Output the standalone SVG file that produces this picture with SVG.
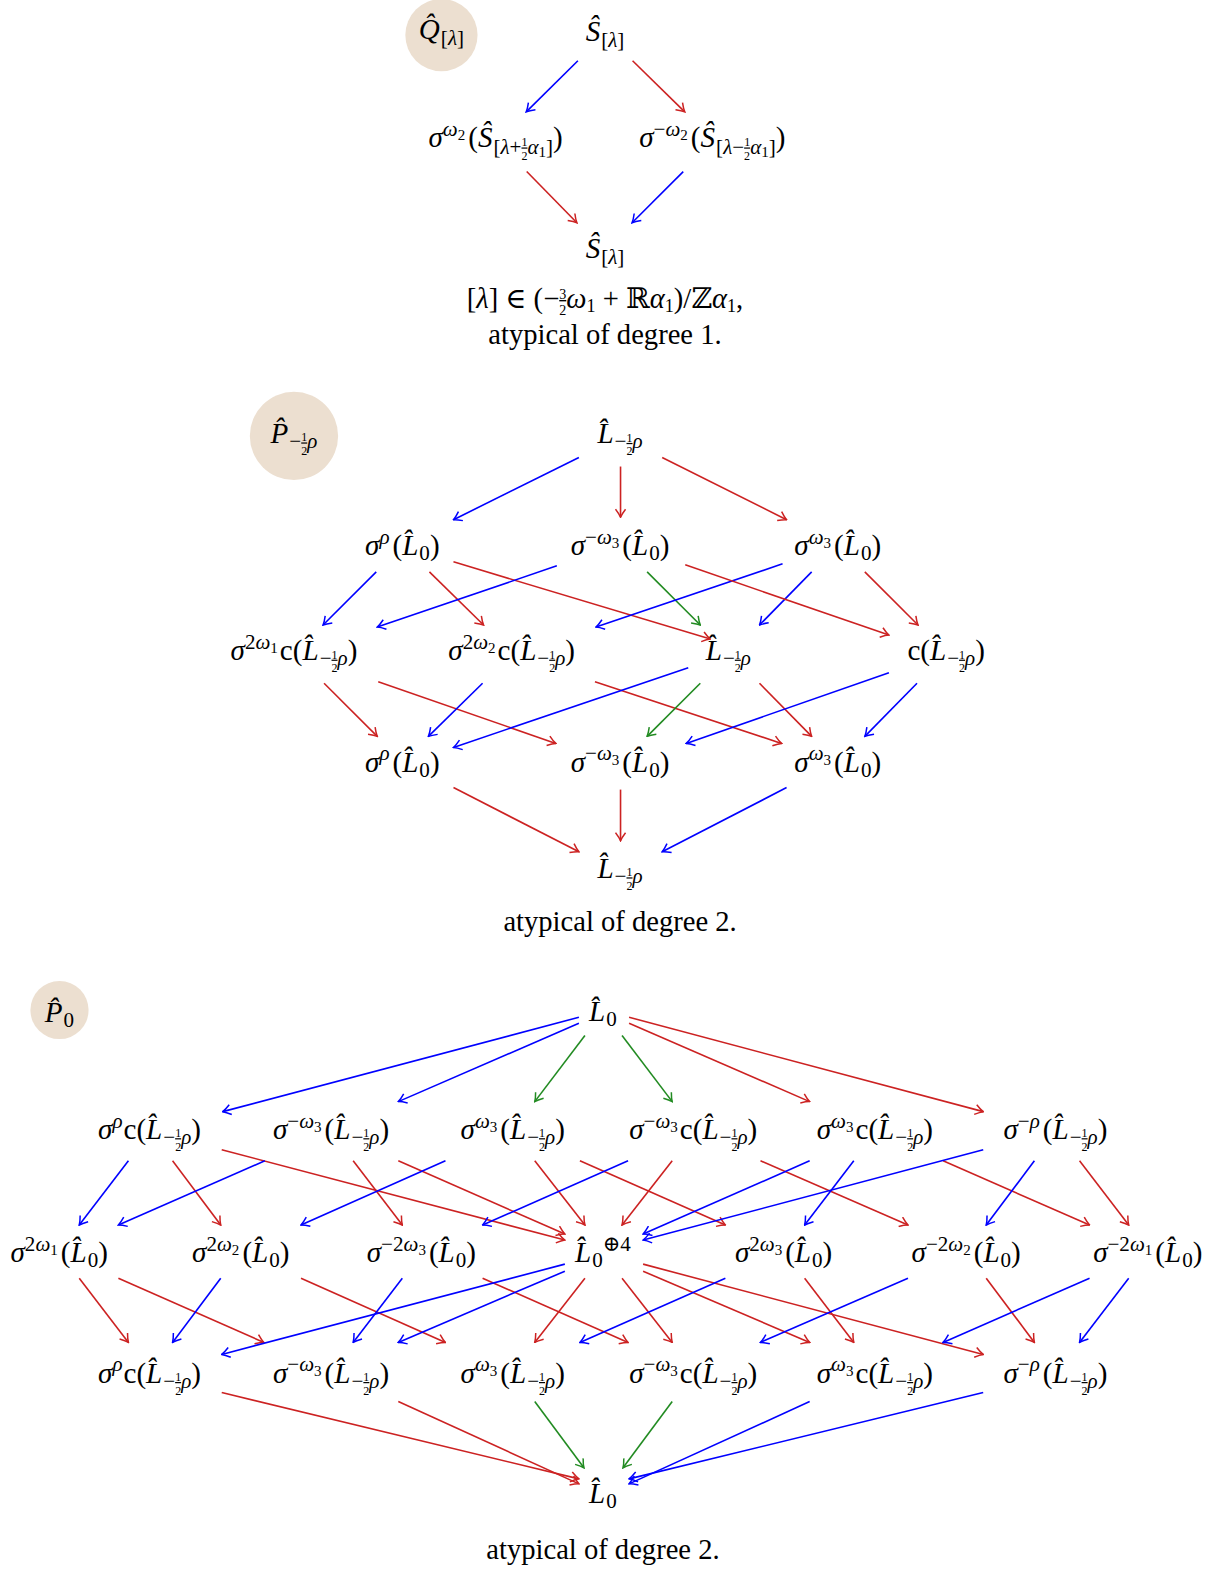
<svg xmlns="http://www.w3.org/2000/svg" width="1221" height="1573" viewBox="0 0 1221 1573">
<style>
text{font-family:"Liberation Serif","DejaVu Serif",serif;font-size:29px;fill:#000;text-anchor:middle}
.cap{font-size:28.5px}
.i{font-style:italic}
.s{font-size:21px}
.ss{font-size:15px}
.q{font-size:12px}
.f{font-size:14px}
.g{font-size:18px}
.fr{text-decoration:underline}
.c line{stroke-width:1.6;fill:none}
.bl{stroke:#0000ff;marker-end:url(#ab)}
.rd{stroke:#cc2222;marker-end:url(#ar)}
.gr{stroke:#228b22;marker-end:url(#ag)}
.bub{fill:#ecdfd0}
</style>
<defs>
<marker id="ab" viewBox="-9 -6 10 12" refX="0" refY="0" markerWidth="10" markerHeight="12" orient="auto" markerUnits="userSpaceOnUse"><path d="M-8,-5 Q-3,-1.2 0,0 Q-3,1.2 -8,5" fill="none" stroke="#0000ff" stroke-width="1.5"/></marker>
<marker id="ar" viewBox="-9 -6 10 12" refX="0" refY="0" markerWidth="10" markerHeight="12" orient="auto" markerUnits="userSpaceOnUse"><path d="M-8,-5 Q-3,-1.2 0,0 Q-3,1.2 -8,5" fill="none" stroke="#cc2222" stroke-width="1.5"/></marker>
<marker id="ag" viewBox="-9 -6 10 12" refX="0" refY="0" markerWidth="10" markerHeight="12" orient="auto" markerUnits="userSpaceOnUse"><path d="M-8,-5 Q-3,-1.2 0,0 Q-3,1.2 -8,5" fill="none" stroke="#228b22" stroke-width="1.5"/></marker>
</defs>
<g transform="scale(1.00329)">
<!-- Section 1 -->
<g id="s1-Q"><circle class="bub" cx="440" cy="35" r="36"/><text x="440" y="39"><tspan class="i">Q&#x302;</tspan><tspan class="s" dx="1" dy="6">[</tspan><tspan class="s i">λ</tspan><tspan class="s">]</tspan></text></g>
<g id="s1-top"><text x="603" y="41"><tspan class="i">S&#x302;</tspan><tspan class="s" dx="1" dy="6">[</tspan><tspan class="s i">λ</tspan><tspan class="s">]</tspan></text></g>
<g id="s1-left"><text x="494" y="147"><tspan class="i">σ</tspan><tspan class="s i" dy="-11">ω</tspan><tspan class="ss" dy="4">2</tspan><tspan dx="3" dy="7">(</tspan><tspan class="i">S&#x302;</tspan><tspan class="s" dx="1" dy="6">[</tspan><tspan class="s i">λ</tspan><tspan class="s">+</tspan><tspan class="q fr" dy="-7">1</tspan><tspan class="q" dx="-6" dy="13.5">2</tspan><tspan class="s i" dy="-6.5">α</tspan><tspan class="ss" dy="3">1</tspan><tspan class="s" dy="-3">]</tspan><tspan dy="-6">)</tspan></text></g>
<g id="s1-right"><text x="710" y="147"><tspan class="i">σ</tspan><tspan class="s" dy="-11">−</tspan><tspan class="s i">ω</tspan><tspan class="ss" dy="4">2</tspan><tspan dx="3" dy="7">(</tspan><tspan class="i">S&#x302;</tspan><tspan class="s" dx="1" dy="6">[</tspan><tspan class="s i">λ</tspan><tspan class="s">−</tspan><tspan class="q fr" dy="-7">1</tspan><tspan class="q" dx="-6" dy="13.5">2</tspan><tspan class="s i" dy="-6.5">α</tspan><tspan class="ss" dy="3">1</tspan><tspan class="s" dy="-3">]</tspan><tspan dy="-6">)</tspan></text></g>
<g id="s1-bottom"><text x="603" y="257"><tspan class="i">S&#x302;</tspan><tspan class="s" dx="1" dy="6">[</tspan><tspan class="s i">λ</tspan><tspan class="s">]</tspan></text></g>
<g id="s1-caption"><text class="cap" x="603" y="307">[<tspan class="i">λ</tspan>] ∈ (−<tspan class="f fr" dy="-9">3</tspan><tspan class="f" dx="-7" dy="16">2</tspan><tspan class="i" dy="-7">ω</tspan><tspan class="g" dy="4">1</tspan><tspan dy="-4"> + ℝ</tspan><tspan class="i">α</tspan><tspan class="g" dy="4">1</tspan><tspan dy="-4">)/ℤ</tspan><tspan class="i">α</tspan><tspan class="g" dy="4">1</tspan><tspan dy="-4">,</tspan></text><text class="cap" x="603" y="343">atypical of degree 1.</text></g>

<!-- Section 2 -->
<g id="s2-P"><circle class="bub" cx="293" cy="434.5" r="44"/><text x="293" y="441.5"><tspan class="i">P&#x302;</tspan><tspan class="s" dx="1" dy="5">−</tspan><tspan class="q fr" dy="-6.5">1</tspan><tspan class="q" dx="-6" dy="13.5">2</tspan><tspan class="s i" dy="-7">ρ</tspan></text></g>
<g id="s2-top"><text x="618" y="442"><tspan class="i">L&#x302;</tspan><tspan class="s" dx="1" dy="5">−</tspan><tspan class="q fr" dy="-6.5">1</tspan><tspan class="q" dx="-6" dy="13.5">2</tspan><tspan class="s i" dy="-7">ρ</tspan></text></g>
<g id="s2-r2a"><text x="401" y="553"><tspan class="i">σ</tspan><tspan class="s i" dy="-11">ρ</tspan><tspan dx="3" dy="11">(</tspan><tspan class="i">L&#x302;</tspan><tspan class="s" dx="1" dy="5">0</tspan><tspan dy="-5">)</tspan></text></g>
<g id="s2-r2b"><text x="618" y="553"><tspan class="i">σ</tspan><tspan class="s" dy="-11">−</tspan><tspan class="s i">ω</tspan><tspan class="ss" dy="4">3</tspan><tspan dx="3" dy="7">(</tspan><tspan class="i">L&#x302;</tspan><tspan class="s" dx="1" dy="5">0</tspan><tspan dy="-5">)</tspan></text></g>
<g id="s2-r2c"><text x="835" y="553"><tspan class="i">σ</tspan><tspan class="s i" dy="-11">ω</tspan><tspan class="ss" dy="4">3</tspan><tspan dx="3" dy="7">(</tspan><tspan class="i">L&#x302;</tspan><tspan class="s" dx="1" dy="5">0</tspan><tspan dy="-5">)</tspan></text></g>
<g id="s2-r3a"><text x="293" y="658"><tspan class="i">σ</tspan><tspan class="s" dy="-11">2</tspan><tspan class="s i">ω</tspan><tspan class="ss" dy="4">1</tspan><tspan dx="2" dy="7">c(</tspan><tspan class="i">L&#x302;</tspan><tspan class="s" dx="1" dy="5">−</tspan><tspan class="q fr" dy="-6.5">1</tspan><tspan class="q" dx="-6" dy="13.5">2</tspan><tspan class="s i" dy="-7">ρ</tspan><tspan dy="-5">)</tspan></text></g>
<g id="s2-r3b"><text x="510" y="658"><tspan class="i">σ</tspan><tspan class="s" dy="-11">2</tspan><tspan class="s i">ω</tspan><tspan class="ss" dy="4">2</tspan><tspan dx="2" dy="7">c(</tspan><tspan class="i">L&#x302;</tspan><tspan class="s" dx="1" dy="5">−</tspan><tspan class="q fr" dy="-6.5">1</tspan><tspan class="q" dx="-6" dy="13.5">2</tspan><tspan class="s i" dy="-7">ρ</tspan><tspan dy="-5">)</tspan></text></g>
<g id="s2-r3c"><text x="726" y="658"><tspan class="i">L&#x302;</tspan><tspan class="s" dx="1" dy="5">−</tspan><tspan class="q fr" dy="-6.5">1</tspan><tspan class="q" dx="-6" dy="13.5">2</tspan><tspan class="s i" dy="-7">ρ</tspan></text></g>
<g id="s2-r3d"><text x="943" y="658">c(<tspan class="i">L&#x302;</tspan><tspan class="s" dx="1" dy="5">−</tspan><tspan class="q fr" dy="-6.5">1</tspan><tspan class="q" dx="-6" dy="13.5">2</tspan><tspan class="s i" dy="-7">ρ</tspan><tspan dy="-5">)</tspan></text></g>
<g id="s2-r4a"><text x="401" y="769"><tspan class="i">σ</tspan><tspan class="s i" dy="-11">ρ</tspan><tspan dx="3" dy="11">(</tspan><tspan class="i">L&#x302;</tspan><tspan class="s" dx="1" dy="5">0</tspan><tspan dy="-5">)</tspan></text></g>
<g id="s2-r4b"><text x="618" y="769"><tspan class="i">σ</tspan><tspan class="s" dy="-11">−</tspan><tspan class="s i">ω</tspan><tspan class="ss" dy="4">3</tspan><tspan dx="3" dy="7">(</tspan><tspan class="i">L&#x302;</tspan><tspan class="s" dx="1" dy="5">0</tspan><tspan dy="-5">)</tspan></text></g>
<g id="s2-r4c"><text x="835" y="769"><tspan class="i">σ</tspan><tspan class="s i" dy="-11">ω</tspan><tspan class="ss" dy="4">3</tspan><tspan dx="3" dy="7">(</tspan><tspan class="i">L&#x302;</tspan><tspan class="s" dx="1" dy="5">0</tspan><tspan dy="-5">)</tspan></text></g>
<g id="s2-bottom"><text x="618" y="875"><tspan class="i">L&#x302;</tspan><tspan class="s" dx="1" dy="5">−</tspan><tspan class="q fr" dy="-6.5">1</tspan><tspan class="q" dx="-6" dy="13.5">2</tspan><tspan class="s i" dy="-7">ρ</tspan></text></g>
<g id="s2-caption"><text class="cap" x="618" y="928">atypical of degree 2.</text></g>

<!-- Section 3 -->
<g id="s3-P"><circle class="bub" cx="59.3" cy="1006.7" r="29"/><text x="59.3" y="1019"><tspan class="i">P&#x302;</tspan><tspan class="s" dx="1" dy="5">0</tspan></text></g>
<g id="s3-top"><text x="601" y="1018"><tspan class="i">L&#x302;</tspan><tspan class="s" dx="1" dy="5">0</tspan></text></g>
<g id="s3-A1"><text x="149" y="1135"><tspan class="i">σ</tspan><tspan class="s i" dy="-11">ρ</tspan><tspan dx="1" dy="11">c(</tspan><tspan class="i">L&#x302;</tspan><tspan class="s" dx="1" dy="5">−</tspan><tspan class="q fr" dy="-6.5">1</tspan><tspan class="q" dx="-6" dy="13.5">2</tspan><tspan class="s i" dy="-7">ρ</tspan><tspan dy="-5">)</tspan></text></g>
<g id="s3-A2"><text x="330" y="1135"><tspan class="i">σ</tspan><tspan class="s" dy="-11">−</tspan><tspan class="s i">ω</tspan><tspan class="ss" dy="4">3</tspan><tspan dx="3" dy="7">(</tspan><tspan class="i">L&#x302;</tspan><tspan class="s" dx="1" dy="5">−</tspan><tspan class="q fr" dy="-6.5">1</tspan><tspan class="q" dx="-6" dy="13.5">2</tspan><tspan class="s i" dy="-7">ρ</tspan><tspan dy="-5">)</tspan></text></g>
<g id="s3-A3"><text x="511" y="1135"><tspan class="i">σ</tspan><tspan class="s i" dy="-11">ω</tspan><tspan class="ss" dy="4">3</tspan><tspan dx="3" dy="7">(</tspan><tspan class="i">L&#x302;</tspan><tspan class="s" dx="1" dy="5">−</tspan><tspan class="q fr" dy="-6.5">1</tspan><tspan class="q" dx="-6" dy="13.5">2</tspan><tspan class="s i" dy="-7">ρ</tspan><tspan dy="-5">)</tspan></text></g>
<g id="s3-A4"><text x="691" y="1135"><tspan class="i">σ</tspan><tspan class="s" dy="-11">−</tspan><tspan class="s i">ω</tspan><tspan class="ss" dy="4">3</tspan><tspan dx="2" dy="7">c(</tspan><tspan class="i">L&#x302;</tspan><tspan class="s" dx="1" dy="5">−</tspan><tspan class="q fr" dy="-6.5">1</tspan><tspan class="q" dx="-6" dy="13.5">2</tspan><tspan class="s i" dy="-7">ρ</tspan><tspan dy="-5">)</tspan></text></g>
<g id="s3-A5"><text x="872" y="1135"><tspan class="i">σ</tspan><tspan class="s i" dy="-11">ω</tspan><tspan class="ss" dy="4">3</tspan><tspan dx="2" dy="7">c(</tspan><tspan class="i">L&#x302;</tspan><tspan class="s" dx="1" dy="5">−</tspan><tspan class="q fr" dy="-6.5">1</tspan><tspan class="q" dx="-6" dy="13.5">2</tspan><tspan class="s i" dy="-7">ρ</tspan><tspan dy="-5">)</tspan></text></g>
<g id="s3-A6"><text x="1052" y="1135"><tspan class="i">σ</tspan><tspan class="s" dy="-11">−</tspan><tspan class="s i">ρ</tspan><tspan dx="3" dy="11">(</tspan><tspan class="i">L&#x302;</tspan><tspan class="s" dx="1" dy="5">−</tspan><tspan class="q fr" dy="-6.5">1</tspan><tspan class="q" dx="-6" dy="13.5">2</tspan><tspan class="s i" dy="-7">ρ</tspan><tspan dy="-5">)</tspan></text></g>
<g id="s3-B1"><text x="59" y="1258"><tspan class="i">σ</tspan><tspan class="s" dy="-11">2</tspan><tspan class="s i">ω</tspan><tspan class="ss" dy="4">1</tspan><tspan dx="3" dy="7">(</tspan><tspan class="i">L&#x302;</tspan><tspan class="s" dx="1" dy="5">0</tspan><tspan dy="-5">)</tspan></text></g>
<g id="s3-B2"><text x="240" y="1258"><tspan class="i">σ</tspan><tspan class="s" dy="-11">2</tspan><tspan class="s i">ω</tspan><tspan class="ss" dy="4">2</tspan><tspan dx="3" dy="7">(</tspan><tspan class="i">L&#x302;</tspan><tspan class="s" dx="1" dy="5">0</tspan><tspan dy="-5">)</tspan></text></g>
<g id="s3-B3"><text x="420" y="1258"><tspan class="i">σ</tspan><tspan class="s" dy="-11">−2</tspan><tspan class="s i">ω</tspan><tspan class="ss" dy="4">3</tspan><tspan dx="3" dy="7">(</tspan><tspan class="i">L&#x302;</tspan><tspan class="s" dx="1" dy="5">0</tspan><tspan dy="-5">)</tspan></text></g>
<g id="s3-B4"><text x="601" y="1258"><tspan class="i">L&#x302;</tspan><tspan class="s" dx="1" dy="5">0</tspan><tspan class="s" dy="-16">⊕4</tspan></text></g>
<g id="s3-B5"><text x="781" y="1258"><tspan class="i">σ</tspan><tspan class="s" dy="-11">2</tspan><tspan class="s i">ω</tspan><tspan class="ss" dy="4">3</tspan><tspan dx="3" dy="7">(</tspan><tspan class="i">L&#x302;</tspan><tspan class="s" dx="1" dy="5">0</tspan><tspan dy="-5">)</tspan></text></g>
<g id="s3-B6"><text x="963" y="1258"><tspan class="i">σ</tspan><tspan class="s" dy="-11">−2</tspan><tspan class="s i">ω</tspan><tspan class="ss" dy="4">2</tspan><tspan dx="3" dy="7">(</tspan><tspan class="i">L&#x302;</tspan><tspan class="s" dx="1" dy="5">0</tspan><tspan dy="-5">)</tspan></text></g>
<g id="s3-B7"><text x="1144" y="1258"><tspan class="i">σ</tspan><tspan class="s" dy="-11">−2</tspan><tspan class="s i">ω</tspan><tspan class="ss" dy="4">1</tspan><tspan dx="3" dy="7">(</tspan><tspan class="i">L&#x302;</tspan><tspan class="s" dx="1" dy="5">0</tspan><tspan dy="-5">)</tspan></text></g>
<g id="s3-C1"><text x="149" y="1378"><tspan class="i">σ</tspan><tspan class="s i" dy="-11">ρ</tspan><tspan dx="1" dy="11">c(</tspan><tspan class="i">L&#x302;</tspan><tspan class="s" dx="1" dy="5">−</tspan><tspan class="q fr" dy="-6.5">1</tspan><tspan class="q" dx="-6" dy="13.5">2</tspan><tspan class="s i" dy="-7">ρ</tspan><tspan dy="-5">)</tspan></text></g>
<g id="s3-C2"><text x="330" y="1378"><tspan class="i">σ</tspan><tspan class="s" dy="-11">−</tspan><tspan class="s i">ω</tspan><tspan class="ss" dy="4">3</tspan><tspan dx="3" dy="7">(</tspan><tspan class="i">L&#x302;</tspan><tspan class="s" dx="1" dy="5">−</tspan><tspan class="q fr" dy="-6.5">1</tspan><tspan class="q" dx="-6" dy="13.5">2</tspan><tspan class="s i" dy="-7">ρ</tspan><tspan dy="-5">)</tspan></text></g>
<g id="s3-C3"><text x="511" y="1378"><tspan class="i">σ</tspan><tspan class="s i" dy="-11">ω</tspan><tspan class="ss" dy="4">3</tspan><tspan dx="3" dy="7">(</tspan><tspan class="i">L&#x302;</tspan><tspan class="s" dx="1" dy="5">−</tspan><tspan class="q fr" dy="-6.5">1</tspan><tspan class="q" dx="-6" dy="13.5">2</tspan><tspan class="s i" dy="-7">ρ</tspan><tspan dy="-5">)</tspan></text></g>
<g id="s3-C4"><text x="691" y="1378"><tspan class="i">σ</tspan><tspan class="s" dy="-11">−</tspan><tspan class="s i">ω</tspan><tspan class="ss" dy="4">3</tspan><tspan dx="2" dy="7">c(</tspan><tspan class="i">L&#x302;</tspan><tspan class="s" dx="1" dy="5">−</tspan><tspan class="q fr" dy="-6.5">1</tspan><tspan class="q" dx="-6" dy="13.5">2</tspan><tspan class="s i" dy="-7">ρ</tspan><tspan dy="-5">)</tspan></text></g>
<g id="s3-C5"><text x="872" y="1378"><tspan class="i">σ</tspan><tspan class="s i" dy="-11">ω</tspan><tspan class="ss" dy="4">3</tspan><tspan dx="2" dy="7">c(</tspan><tspan class="i">L&#x302;</tspan><tspan class="s" dx="1" dy="5">−</tspan><tspan class="q fr" dy="-6.5">1</tspan><tspan class="q" dx="-6" dy="13.5">2</tspan><tspan class="s i" dy="-7">ρ</tspan><tspan dy="-5">)</tspan></text></g>
<g id="s3-C6"><text x="1052" y="1378"><tspan class="i">σ</tspan><tspan class="s" dy="-11">−</tspan><tspan class="s i">ρ</tspan><tspan dx="3" dy="11">(</tspan><tspan class="i">L&#x302;</tspan><tspan class="s" dx="1" dy="5">−</tspan><tspan class="q fr" dy="-6.5">1</tspan><tspan class="q" dx="-6" dy="13.5">2</tspan><tspan class="s i" dy="-7">ρ</tspan><tspan dy="-5">)</tspan></text></g>
<g id="s3-bottom"><text x="601" y="1498"><tspan class="i">L&#x302;</tspan><tspan class="s" dx="1" dy="5">0</tspan></text></g>
<g id="s3-caption"><text class="cap" x="601" y="1554">atypical of degree 2.</text></g>

<g id="connectors" class="c">
<line class="bl" x1="576" y1="60.5" x2="524.5" y2="111.5"/>
<line class="rd" x1="630.5" y1="60.5" x2="682.5" y2="111.5"/>
<line class="rd" x1="525" y1="171" x2="575" y2="222"/>
<line class="bl" x1="681" y1="171" x2="630" y2="222"/>

<line class="bl" x1="577" y1="456" x2="452" y2="518"/>
<line class="rd" x1="618.5" y1="465" x2="618.5" y2="515.5"/>
<line class="rd" x1="660" y1="456" x2="784" y2="518"/>
<line class="bl" x1="375" y1="570" x2="322" y2="623"/>
<line class="rd" x1="428" y1="570" x2="482" y2="623"/>
<line class="rd" x1="452" y1="560" x2="708" y2="637"/>
<line class="bl" x1="555" y1="564" x2="376" y2="625"/>
<line class="gr" x1="645" y1="570" x2="698" y2="623"/>
<line class="bl" x1="780" y1="562" x2="594" y2="625"/>
<line class="bl" x1="809" y1="570" x2="757" y2="623"/>
<line class="rd" x1="683" y1="563" x2="886" y2="633"/>
<line class="rd" x1="862" y1="570" x2="915" y2="623"/>
<line class="rd" x1="323" y1="681" x2="376" y2="734"/>
<line class="rd" x1="377" y1="679.5" x2="554" y2="741"/>
<line class="bl" x1="481" y1="681" x2="427" y2="734"/>
<line class="rd" x1="593" y1="679.5" x2="779" y2="741"/>
<line class="bl" x1="686" y1="665.5" x2="452" y2="745"/>
<line class="gr" x1="698" y1="681" x2="645" y2="734"/>
<line class="rd" x1="757" y1="681" x2="809" y2="734"/>
<line class="bl" x1="886" y1="670.5" x2="684" y2="741"/>
<line class="bl" x1="914" y1="681" x2="862" y2="734"/>
<line class="rd" x1="452" y1="785" x2="577" y2="849"/>
<line class="rd" x1="618.5" y1="787" x2="618.5" y2="838"/>
<line class="bl" x1="784" y1="785" x2="660" y2="849"/>

<line class="bl" x1="577" y1="1014" x2="222" y2="1108"/>
<line class="bl" x1="577" y1="1020" x2="397" y2="1098"/>
<line class="gr" x1="583" y1="1032" x2="533" y2="1098"/>
<line class="gr" x1="620" y1="1032" x2="670" y2="1098"/>
<line class="rd" x1="627" y1="1020" x2="807" y2="1098"/>
<line class="rd" x1="627" y1="1014" x2="980" y2="1108"/>

<line class="bl" x1="128" y1="1157" x2="79" y2="1221"/>
<line class="rd" x1="172" y1="1157" x2="220" y2="1221"/>
<line class="rd" x1="221" y1="1146" x2="563" y2="1236"/>
<line class="bl" x1="264" y1="1157" x2="118" y2="1221"/>
<line class="rd" x1="352" y1="1157" x2="401" y2="1221"/>
<line class="rd" x1="397" y1="1157" x2="563" y2="1230"/>
<line class="bl" x1="444" y1="1157" x2="300" y2="1221"/>
<line class="rd" x1="533" y1="1157" x2="583" y2="1221"/>
<line class="rd" x1="578" y1="1157" x2="723" y2="1221"/>
<line class="bl" x1="626" y1="1157" x2="481" y2="1221"/>
<line class="rd" x1="670" y1="1157" x2="620" y2="1221"/>
<line class="rd" x1="758" y1="1157" x2="905" y2="1221"/>
<line class="bl" x1="807" y1="1157" x2="641" y2="1230"/>
<line class="bl" x1="851" y1="1157" x2="802" y2="1221"/>
<line class="rd" x1="940" y1="1157" x2="1086" y2="1221"/>
<line class="bl" x1="980" y1="1146" x2="641" y2="1236"/>
<line class="bl" x1="1031" y1="1157" x2="983" y2="1221"/>
<line class="rd" x1="1076" y1="1157" x2="1125" y2="1221"/>

<line class="rd" x1="79" y1="1274" x2="128" y2="1338"/>
<line class="rd" x1="118" y1="1274" x2="263" y2="1338"/>
<line class="bl" x1="220" y1="1274" x2="172" y2="1338"/>
<line class="rd" x1="300" y1="1274" x2="444" y2="1338"/>
<line class="bl" x1="401" y1="1274" x2="352" y2="1338"/>
<line class="rd" x1="481" y1="1274" x2="626" y2="1338"/>
<line class="bl" x1="563" y1="1260" x2="221" y2="1350"/>
<line class="bl" x1="563" y1="1267" x2="397" y2="1338"/>
<line class="rd" x1="583" y1="1274" x2="533" y2="1338"/>
<line class="rd" x1="620" y1="1274" x2="670" y2="1338"/>
<line class="rd" x1="641" y1="1267" x2="807" y2="1338"/>
<line class="rd" x1="641" y1="1260" x2="980" y2="1350"/>
<line class="bl" x1="723" y1="1274" x2="578" y2="1338"/>
<line class="rd" x1="802" y1="1274" x2="851" y2="1338"/>
<line class="bl" x1="905" y1="1274" x2="758" y2="1338"/>
<line class="rd" x1="983" y1="1274" x2="1031" y2="1338"/>
<line class="bl" x1="1086" y1="1274" x2="940" y2="1338"/>
<line class="bl" x1="1125" y1="1274" x2="1076" y2="1338"/>

<line class="rd" x1="221" y1="1388" x2="577" y2="1474"/>
<line class="rd" x1="397" y1="1397" x2="577" y2="1479"/>
<line class="gr" x1="533" y1="1397" x2="582" y2="1463"/>
<line class="gr" x1="670" y1="1397" x2="621" y2="1463"/>
<line class="bl" x1="807" y1="1397" x2="627" y2="1479"/>
<line class="bl" x1="980" y1="1388" x2="627" y2="1474"/>
</g>
</g>
</svg>
